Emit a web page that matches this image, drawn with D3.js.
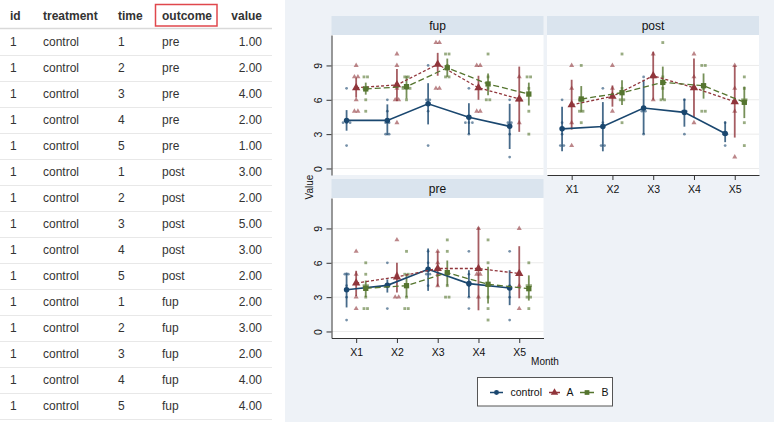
<!DOCTYPE html>
<html><head><meta charset="utf-8">
<script src="https://cdn.jsdelivr.net/npm/d3@7"></script>
<style>
html,body{margin:0;padding:0;background:#fff;}
svg{display:block;font-family:"Liberation Sans",Arial,sans-serif;}
</style></head><body>
<svg id="c" width="774" height="422"></svg>
<script>
// ---------- table data ----------
const tableColumns = ["id","treatment","time","outcome","value"];
const tableId = [1,1,1,1,1,1,1,1,1,1,1,1,1,1,1];
const tableTreatment = ["control","control","control","control","control","control","control","control","control","control","control","control","control","control","control"];
const tableTime = [1,2,3,4,5,1,2,3,4,5,1,2,3,4,5];
const tableOutcome = ["pre","pre","pre","pre","pre","post","post","post","post","post","fup","fup","fup","fup","fup"];
const tableValue = [1,2,4,2,1,3,2,5,3,2,2,3,2,4,4];

// ---------- chart data ----------
const months = ["X1","X2","X3","X4","X5"];
const groups = ["control","A","B"];
const facets = ["fup","post","pre"];
const yTicks = [0,3,6,9];

// fup
const fupControlMean = [4.2, 4.2, 5.65, 4.47, 3.68];
const fupControlLo   = [3.3, 2.9, 3.85, 3.0, 1.7];
const fupControlHi   = [5.1, 5.6, 7.45, 5.7, 5.65];
const fupControlRaw  = [[7,4,4,4,2],[6,5,4,4,3,3],[9,6,6,5,2],[7,4,4,4,3],[6,4,4,3,1]];
const fupAMean = [7.05, 7.3, 9.1, 7.05, 6.07];
const fupALo   = [6.2, 5.9, 8.1, 6.0, 3.2];
const fupAHi   = [7.9, 8.7, 10.1, 8.1, 8.9];
const fupARaw  = [[9,8,8,6,5,5],[10,9,7,6,6,4],[11,11,7,7],[9,9,5,5],[8,6,6,4]];
const fupBMean = [6.95, 7.15, 8.8, 7.38, 6.5];
const fupBLo   = [6.45, 6.1, 8.0, 6.4, 5.5];
const fupBHi   = [7.5, 8.1, 9.6, 8.3, 7.5];
const fupBRaw  = [[8,8,7,7,6,5],[8,8,7,7,7,6],[10,10,9,8,8],[10,8,7,6,6],[8,8,7,5,3]];

// post
const postControlMean = [3.46, 3.67, 5.28, 4.9, 3.05];
const postControlLo   = [1.5, 1.5, 3.0, 3.65, 2.3];
const postControlHi   = [5.4, 5.8, 7.75, 6.1, 4.1];
const postControlRaw  = [[6,4,3,2,2],[7,4,2,2],[8,5,5,3],[6,5,5,3],[4,3,3,2]];
const postAMean = [5.56, 6.3, 8.1, 7.05, 5.83];
const postALo   = [3.4, 5.4, 6.0, 4.5, 2.7];
const postAHi   = [7.75, 7.25, 10.2, 9.6, 9.0];
const postARaw  = [[9,7,4,2],[9,7,5],[10,8,6],[10,8,4],[9,7,5,1]];
const postBMean = [6.07, 6.62, 7.52, 7.23, 5.78];
const postBLo   = [4.9, 5.55, 6.0, 6.1, 4.4];
const postBHi   = [7.2, 7.7, 8.9, 8.3, 7.15];
const postBRaw  = [[9,6,6,5,5,4],[10,7,6,6,4],[11,8,7,6,6],[9,9,7,5,5],[8,7,6,6,4,2]];

// pre
const preControlMean = [3.65, 4.03, 5.43, 4.18, 3.8];
const preControlLo   = [2.1, 3.4, 3.55, 3.0, 2.3];
const preControlHi   = [5.15, 4.55, 7.25, 5.35, 5.35];
const preControlRaw  = [[5,5,4,3,1],[6,4,4,2],[7,6,5,5,4],[7,5,4,3,2],[7,4,3,1]];
const preAMean = [4.23, 4.76, 5.5, 5.5, 5.06];
const preALo   = [3.1, 3.4, 3.95, 1.85, 2.9];
const preAHi   = [5.3, 6.0, 7.0, 9.1, 7.45];
const preARaw  = [[7,5,3,2],[8,5,3,3],[7,6,5,4],[9,5,5,3],[9,5,4,2]];
const preBMean = [3.77, 4.0, 5.14, 4.12, 3.74];
const preBLo   = [3.0, 3.0, 4.0, 2.45, 2.7];
const preBHi   = [4.45, 5.05, 6.2, 5.65, 4.9];
const preBRaw  = [[6,5,4,4,3,2,2],[7,5,5,4,3,2,2],[8,7,5,4,3,3],[8,6,4,3,2,1],[6,4,4,3,3,2]];

const series = {
  fup:  {control:{mean:fupControlMean,lo:fupControlLo,hi:fupControlHi,raw:fupControlRaw},
         A:{mean:fupAMean,lo:fupALo,hi:fupAHi,raw:fupARaw},
         B:{mean:fupBMean,lo:fupBLo,hi:fupBHi,raw:fupBRaw}},
  post: {control:{mean:postControlMean,lo:postControlLo,hi:postControlHi,raw:postControlRaw},
         A:{mean:postAMean,lo:postALo,hi:postAHi,raw:postARaw},
         B:{mean:postBMean,lo:postBLo,hi:postBHi,raw:postBRaw}},
  pre:  {control:{mean:preControlMean,lo:preControlLo,hi:preControlHi,raw:preControlRaw},
         A:{mean:preAMean,lo:preALo,hi:preAHi,raw:preARaw},
         B:{mean:preBMean,lo:preBLo,hi:preBHi,raw:preBRaw}}
};

// ---------- styles ----------
const colors = {control:"#1a476f", A:"#90353b", B:"#55752f"};
const offsets = {control:-0.235, A:0, B:0.235};
const dashes = {control:null, A:"3,2", B:"6,3"};
const symTypes = {control:d3.symbolCircle, A:d3.symbolTriangle, B:d3.symbolSquare};
const meanSize = {control:24, A:30, B:28};
const rawSize = {control:6, A:11, B:8};

const svg = d3.select("#c");

// ---------- table ----------
const tbl = svg.append("g");
const colX = [10, 43, 118, 162, 262];
const colAnchor = ["start","start","start","start","end"];
tbl.append("rect").attr("x",0).attr("y",0).attr("width",285).attr("height",422).attr("fill","#fff");
tableColumns.forEach((c,i)=>{
  tbl.append("text").attr("x",colX[i]).attr("y",19.5).attr("text-anchor",colAnchor[i])
    .attr("font-size",12).attr("font-weight","bold").attr("fill","#333").text(c);
});
tbl.append("rect").attr("x",155.5).attr("y",4.5).attr("width",61.5).attr("height",21.5)
  .attr("fill","none").attr("stroke","#e0474c").attr("stroke-width",1.5);
tbl.append("line").attr("x1",0).attr("x2",272).attr("y1",28.5).attr("y2",28.5)
  .attr("stroke","#d9d9d9").attr("stroke-width",1.5);
tableId.forEach((d,r)=>{
  const cy = 42 + r*26;
  const vals = [tableId[r], tableTreatment[r], tableTime[r], tableOutcome[r], d3.format(".2f")(tableValue[r])];
  vals.forEach((v,i)=>{
    tbl.append("text").attr("x",colX[i]).attr("y",cy+4.3).attr("text-anchor",colAnchor[i])
      .attr("font-size",12).attr("fill","#333").text(v);
  });
  tbl.append("line").attr("x1",0).attr("x2",272).attr("y1",cy+13.5).attr("y2",cy+13.5)
    .attr("stroke","#e8e8e8").attr("stroke-width",1);
});

// ---------- chart area ----------
svg.append("rect").attr("x",285).attr("y",0).attr("width",489).attr("height",422).attr("fill","#eef2f7");

const pw = 212, ph = 140, hh = 19;
const panelPos = {fup:{x:331.5,y:16,yAxis:true,xAxis:false},
                  post:{x:547,y:16,yAxis:false,xAxis:true},
                  pre:{x:331.5,y:179,yAxis:true,xAxis:true}};
const x = d3.scaleLinear().domain([0.395,5.595]).range([0,pw]);
const y = d3.scaleLinear().domain([-0.57,11.66]).range([ph,0]);

facets.forEach(f=>{
  const p = panelPos[f];
  const g = svg.append("g").attr("transform",`translate(${p.x},${p.y})`);
  g.append("rect").attr("width",pw).attr("height",hh).attr("fill","#dae4ee");
  g.append("text").attr("x",pw/2).attr("y",hh/2+4).attr("text-anchor","middle")
    .attr("font-size",12).attr("fill","#111").text(f);
  const pg = g.append("g").attr("transform",`translate(0,${hh})`);
  pg.append("rect").attr("width",pw).attr("height",ph).attr("fill","#fff");
  pg.selectAll("line.grid").data(yTicks).join("line").attr("class","grid")
    .attr("x1",0).attr("x2",pw).attr("y1",d=>y(d)).attr("y2",d=>y(d))
    .attr("stroke","#ebebeb").attr("stroke-width",1);

  if(p.yAxis){
    const ax = pg.append("g").call(d3.axisLeft(y).tickValues(yTicks).tickSize(5).tickSizeOuter(0));
    ax.select(".domain").attr("stroke","#333");
    ax.selectAll(".tick line").attr("stroke","#333");
    ax.selectAll("text").attr("x",0).attr("y",0).attr("dy",null).attr("text-anchor","middle")
      .attr("transform","translate(-10,0) rotate(-90)").attr("font-size",10.5).attr("fill","#111")
      .attr("font-family","Liberation Sans,Arial,sans-serif");
  }
  if(p.xAxis){
    const ax = pg.append("g").attr("transform",`translate(0,${ph})`)
      .call(d3.axisBottom(x).tickValues([1,2,3,4,5]).tickFormat(d=>months[d-1]).tickSize(5).tickSizeOuter(0));
    ax.select(".domain").attr("stroke","#333");
    ax.selectAll(".tick line").attr("stroke","#333");
    ax.selectAll("text").attr("font-size",10.5).attr("fill","#111").attr("dy","0.95em")
      .attr("font-family","Liberation Sans,Arial,sans-serif");
  }

  // raw points
  groups.forEach(gr=>{
    const s = series[f][gr];
    const pts = [];
    s.raw.forEach((vals,mi)=>{
      const counts = d3.rollup(vals, v=>v.length, d=>d);
      const seen = new Map();
      vals.forEach(v=>{
        const k = counts.get(v); const i = seen.get(v)||0; seen.set(v,i+1);
        pts.push({m:mi+1, v, dx:(i-(k-1)/2)*3.5});
      });
    });
    pg.selectAll(null).data(pts).join("path")
      .attr("d",d3.symbol().type(symTypes[gr]).size(rawSize[gr]))
      .attr("transform",d=>`translate(${x(d.m+offsets[gr])+d.dx},${y(d.v)})`)
      .attr("fill",colors[gr]).attr("opacity",0.6);
  });
  // CI bars
  groups.forEach(gr=>{
    const s = series[f][gr];
    pg.selectAll(null).data(months).join("line")
      .attr("x1",(d,i)=>x(i+1+offsets[gr])).attr("x2",(d,i)=>x(i+1+offsets[gr]))
      .attr("y1",(d,i)=>y(s.lo[i])).attr("y2",(d,i)=>y(s.hi[i]))
      .attr("stroke",colors[gr]).attr("stroke-width",1.8).attr("opacity",0.8);
  });
  // lines and mean markers
  groups.forEach(gr=>{
    const s = series[f][gr];
    const line = d3.line().x((d,i)=>x(i+1+offsets[gr])).y(d=>y(d));
    pg.append("path").datum(s.mean).attr("d",line).attr("fill","none")
      .attr("stroke",colors[gr]).attr("stroke-width",gr==="control"?1.6:1.3)
      .attr("stroke-dasharray",dashes[gr]);
    pg.selectAll(null).data(s.mean).join("path")
      .attr("d",d3.symbol().type(symTypes[gr]).size(meanSize[gr]))
      .attr("transform",(d,i)=>`translate(${x(i+1+offsets[gr])},${y(d)})`)
      .attr("fill",colors[gr]);
  });
});

// axis titles
svg.append("text").attr("transform","translate(312.5,187) rotate(-90)").attr("text-anchor","middle")
  .attr("font-size",10).attr("fill","#111").text("Value");
svg.append("text").attr("x",545).attr("y",364.5).attr("text-anchor","middle")
  .attr("font-size",10).attr("fill","#111").text("Month");

// legend
const lg = svg.append("g");
lg.append("rect").attr("x",477.5).attr("y",377.5).attr("width",135).attr("height",28.5)
  .attr("fill","#fff").attr("stroke","#555").attr("stroke-width",1);
const legX = {control:[490,503,510.5], A:[549,560,566.5], B:[580,594,601.5]};
groups.forEach(gr=>{
  const [a,b,t] = legX[gr];
  lg.append("line").attr("x1",a).attr("x2",b).attr("y1",392.5).attr("y2",392.5)
    .attr("stroke",colors[gr]).attr("stroke-width",1.5);
  lg.append("path").attr("d",d3.symbol().type(symTypes[gr]).size(meanSize[gr]*0.8))
    .attr("transform",`translate(${(a+b)/2},392.5)`).attr("fill",colors[gr]);
  lg.append("text").attr("x",t).attr("y",396.2).attr("font-size",10.5).attr("fill","#111").text(gr);
});
</script></body></html>
